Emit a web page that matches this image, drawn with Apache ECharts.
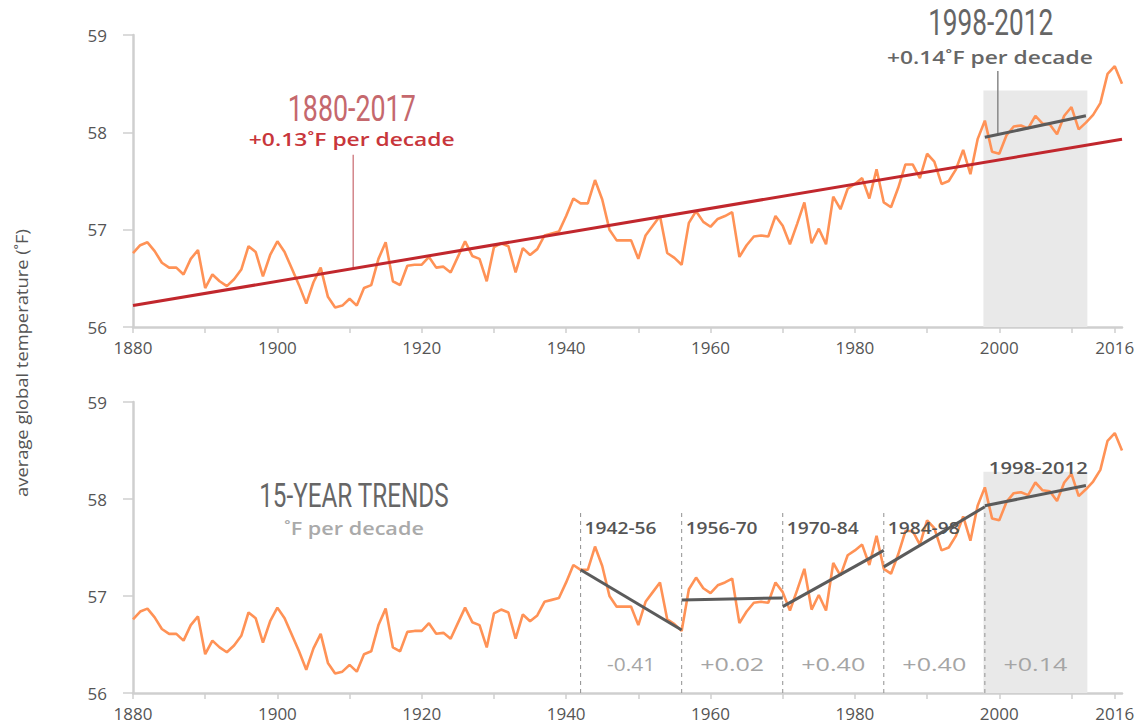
<!DOCTYPE html>
<html><head><meta charset="utf-8">
<script src="https://cdn.jsdelivr.net/npm/echarts@6/dist/echarts.min.js"></script>
<style>html,body{margin:0;padding:0;background:#fff}#c{width:1148px;height:725px}</style>
</head><body><div id="c"></div>
<script>
// ---------- DATA ----------
const startYear = 1880;
const temps = [
56.76,56.84,56.87,56.78,56.66,56.61,56.61,56.54,56.70,56.79,
56.40,56.54,56.47,56.42,56.49,56.59,56.83,56.77,56.52,56.74,
56.88,56.77,56.60,56.43,56.24,56.46,56.61,56.31,56.20,56.22,
56.29,56.22,56.40,56.43,56.70,56.87,56.47,56.43,56.63,56.64,
56.64,56.72,56.61,56.62,56.56,56.72,56.88,56.73,56.70,56.47,
56.82,56.86,56.83,56.56,56.81,56.74,56.80,56.94,56.96,56.98,
57.14,57.32,57.27,57.27,57.51,57.31,57.00,56.89,56.89,56.89,
56.70,56.94,57.04,57.14,56.76,56.71,56.64,57.07,57.19,57.08,
57.03,57.11,57.14,57.18,56.72,56.84,56.93,56.94,56.93,57.14,
57.04,56.85,57.06,57.28,56.86,57.01,56.85,57.34,57.21,57.42,
57.47,57.53,57.32,57.62,57.28,57.23,57.43,57.67,57.67,57.53,
57.78,57.70,57.47,57.50,57.62,57.82,57.57,57.93,58.12,57.80,
57.78,57.97,58.06,58.07,58.04,58.17,58.09,58.08,57.98,58.17,
58.26,58.03,58.10,58.18,58.30,58.60,58.68,58.50];
const longTrend = [[1880, 56.22], [2017, 57.93]];
const pauseTrend = [[1998, 57.95], [2012, 58.17]];
const periodStarts = [1942, 1956, 1970, 1984, 1998];
const periodLabels = ['1942-56', '1956-70', '1970-84', '1984-98', '1998-2012'];
const periodTrends = [
  [[1942, 57.27], [1956, 56.65]],
  [[1956, 56.96], [1970, 56.98]],
  [[1970, 56.89], [1984, 57.47]],
  [[1984, 57.30], [1998, 57.92]],
  [[1998, 57.93], [2012, 58.14]]
];
const periodRates = ['-0.41', '+0.02', '+0.40', '+0.40', '+0.14'];
const xLabelYears = [1880, 1900, 1920, 1940, 1960, 1980, 2000, 2016];
const xTickYears = [1880, 1890, 1900, 1910, 1920, 1930, 1940, 1950, 1960, 1970, 1980, 1990, 2000, 2010, 2016];
const yMin = 56, yMax = 59;

// ---------- CHART ----------
const series0 = temps.map((v, i) => [startYear + i, v]);
const chart = echarts.init(document.getElementById('c'), null, {renderer: 'svg'});
const ORANGE = '#ff9256', RED = '#c1272d', DARK = '#5b5b5b', AXIS = '#cfcfcf';
const FONT = "'Open Sans', 'DejaVu Sans', sans-serif";

function xAxis(gi) {
  return {
    type: 'value', gridIndex: gi, min: 1880, max: 2017,
    axisLine: {show: true, lineStyle: {color: AXIS, width: 2.5}},
    axisTick: {show: true, customValues: xTickYears, length: 6, lineStyle: {color: AXIS, width: 1.5}},
    axisLabel: {customValues: xLabelYears, color: '#555', fontSize: 17, fontFamily: FONT, margin: 12,
      formatter: v => String(v)},
    splitLine: {show: false}
  };
}
function yAxis(gi) {
  return {
    type: 'value', gridIndex: gi, min: yMin, max: yMax, interval: 1,
    axisLine: {show: true, lineStyle: {color: AXIS, width: 2.5}},
    axisTick: {show: true, length: 10, lineStyle: {color: AXIS, width: 1.5}},
    axisLabel: {color: '#555', fontSize: 17, fontFamily: FONT, margin: 26},
    splitLine: {show: false}
  };
}
const seg = (gi, data, color, width, z, type) => ({
  type: 'line', xAxisIndex: gi, yAxisIndex: gi, data, symbol: 'none', silent: true, z,
  lineStyle: {color, width, type: type || 'solid'}, animation: false
});

const series = [
  {type: 'line', xAxisIndex: 0, yAxisIndex: 0, data: [], z: 1, silent: true,
   markArea: {silent: true, itemStyle: {color: '#e9e9e9'}, data: [[{xAxis: 1997.8, yAxis: 56}, {xAxis: 2012.2, yAxis: 58.43}]]}},
  {type: 'line', xAxisIndex: 1, yAxisIndex: 1, data: [], z: 1, silent: true,
   markArea: {silent: true, itemStyle: {color: '#e9e9e9'}, data: [[{xAxis: 1997.8, yAxis: 56}, {xAxis: 2012.2, yAxis: 58.28}]]}},
  seg(0, series0, ORANGE, 2.6, 3),
  seg(1, series0, ORANGE, 2.6, 3),
  seg(0, longTrend, RED, 3, 5),
  seg(0, pauseTrend, DARK, 3, 5),
  seg(0, [[1910.5, 57.77], [1910.5, 56.60]], '#c8686e', 1.2, 4),
  seg(0, [[1999.8, 58.63], [1999.8, 57.98]], '#888', 1.5, 4)
];
periodStarts.forEach(y => series.push(seg(1, [[y, yMin], [y, 57.87]], '#9a9a9a', 1.1, 2, [4, 4])));
periodTrends.forEach(t => series.push(seg(1, t, DARK, 3, 5)));

chart.setOption({
  animation: false,
  grid: [
    {left: 133, right: 26, top: 35, height: 292},
    {left: 133, right: 26, top: 402, height: 291}
  ],
  xAxis: [xAxis(0), xAxis(1)],
  yAxis: [yAxis(0), yAxis(1)],
  series
});

// ---------- ANNOTATIONS ----------
const mctx = document.createElement('canvas').getContext('2d');
function measure(text, size, family, weight) { mctx.font = `${weight} ${size}px ${family}`; return mctx.measureText(text).width; }
function txt(text, x, y, o) {
  const weight = o.weight || 'normal', family = o.family || FONT;
  const sx = o.width ? o.width / measure(text, o.size, family, weight) : 1;
  return {type: 'text', x, y, scaleX: sx, scaleY: 1, rotation: o.rot || 0, z: 100, silent: true,
    style: {text, fill: o.color, fontSize: o.size, fontFamily: family, fontWeight: weight,
      textAlign: o.align || 'center', textVerticalAlign: 'middle'}};
}
const P = (gi, x, y) => chart.convertToPixel({gridIndex: gi}, [x, y]);
const COND = "Roboto, 'DejaVu Sans', sans-serif";
const g = [];
let p;
p = P(0, 1910.3, 58.25); g.push(txt('1880-2017', p[0], p[1], {size: 37, family: COND, color: '#c5686d', width: 128}));
p = P(0, 1910.3, 57.93); g.push(txt('+0.13˚F per decade', p[0], p[1], {size: 18, weight: 600, color: '#c8363b', width: 206}));
p = P(0, 1998.8, 59.13); g.push(txt('1998-2012', p[0], p[1], {size: 37, family: COND, color: '#666', width: 125}));
p = P(0, 1998.7, 58.77); g.push(txt('+0.14˚F per decade', p[0], p[1], {size: 18, weight: 600, color: '#666', width: 206}));
p = P(1, 1910.6, 58.03); g.push(txt('15-YEAR TRENDS', p[0], p[1], {size: 33, family: COND, color: '#666', width: 190}));
p = P(1, 1910.6, 57.70); g.push(txt('˚F per decade', p[0], p[1], {size: 18, weight: 600, color: '#aaa', width: 140}));
periodStarts.forEach((s, i) => {
  const last = i === periodStarts.length - 1;
  const q = P(1, s, last ? 58.33 : 57.71);
  g.push(txt(periodLabels[i], q[0] + 4, q[1], {size: 17, weight: 600, color: '#555', align: 'left', width: last ? 99 : 72}));
  const mid = (periodTrends[i][0][0] + periodTrends[i][1][0]) / 2;
  const r = P(1, mid, 56.30);
  g.push(txt(periodRates[i], r[0], r[1], {size: 18, weight: 'normal', color: '#a5a5a5', width: periodRates[i][0] === '-' ? 48 : 64}));
});
g.push(txt('average global temperature (˚F)', 22, 363, {size: 16, color: '#555', rot: Math.PI / 2, width: 268}));
chart.setOption({graphic: g});
</script>
</body></html>
